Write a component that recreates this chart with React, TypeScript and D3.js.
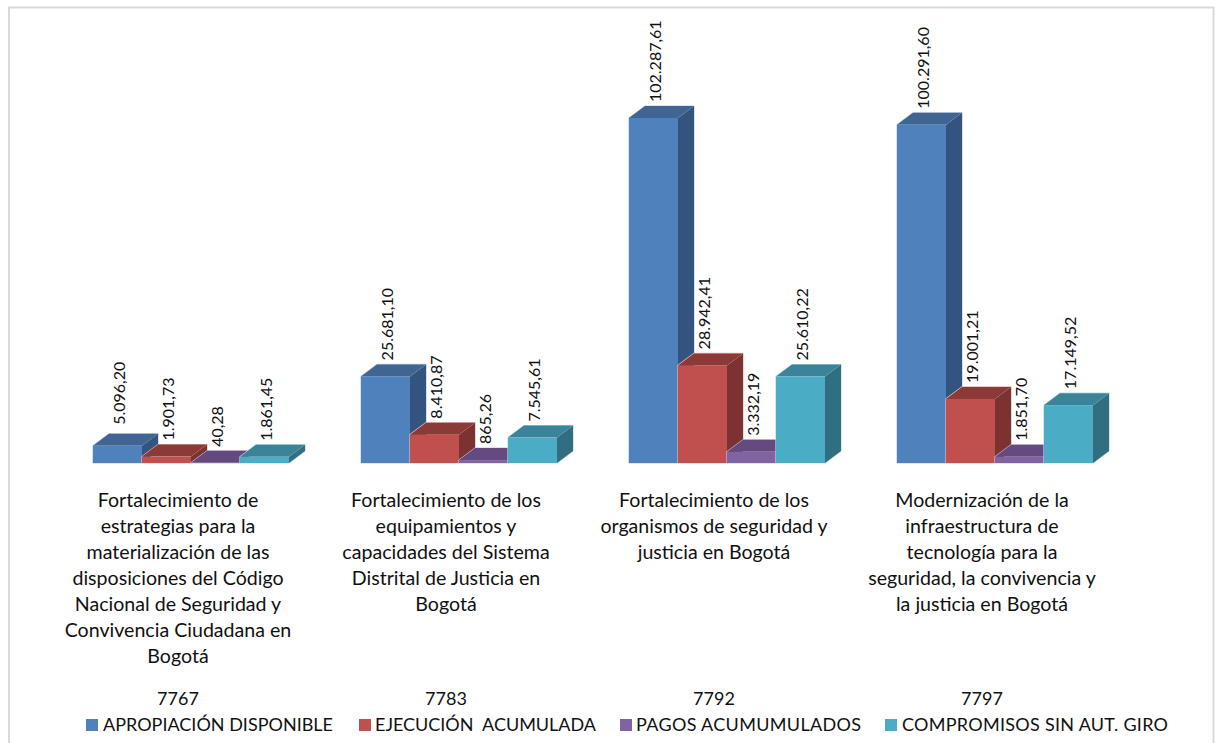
import React from "react";
import * as d3 from "d3";

// Budget execution per investment project, in millions of pesos.
const projectCodes = ["7767", "7783", "7792", "7797"];
const projectNames = [
  ["Fortalecimiento de", "estrategias para la", "materialización de las", "disposiciones del Código", "Nacional de Seguridad y", "Convivencia Ciudadana en", "Bogotá"],
  ["Fortalecimiento de los", "equipamientos y", "capacidades del Sistema", "Distrital de Justicia en", "Bogotá"],
  ["Fortalecimiento de los", "organismos de seguridad y", "justicia en Bogotá"],
  ["Modernización de la", "infraestructura de", "tecnología para la", "seguridad, la convivencia y", "la justicia en Bogotá"],
];
const seriesNames = ["APROPIACIÓN DISPONIBLE", "EJECUCIÓN  ACUMULADA", "PAGOS ACUMUMULADOS", "COMPROMISOS SIN AUT. GIRO"];
const apropiacion = [5096.2, 25681.1, 102287.61, 100291.6];
const ejecucion = [1901.73, 8410.87, 28942.41, 19001.21];
const pagos = [40.28, 865.26, 3332.19, 1851.7];
const compromisos = [1861.45, 7545.61, 25610.22, 17149.52];
const seriesValues = [apropiacion, ejecucion, pagos, compromisos];

const frontColors = ["#4f81bd", "#c0504d", "#8064a2", "#4bacc6"];
const topColors = ["#406592", "#8c3a38", "#644a7e", "#3a8398"];
const sideColors = ["#345480", "#7b3230", "#54396e", "#316f80"];

const DEPTH_X = 16;
const DEPTH_Y = 12;
const FONT = "Lato, 'Open Sans', sans-serif";

const formatValue = (v: number) => {
  const [whole, dec] = v.toFixed(2).split(".");
  return whole.replace(/\B(?=(\d{3})+$)/g, ".") + "," + dec;
};

export default function App() {
  const baseY = 463;
  const y = d3.scaleLinear().domain([0, 102287.61]).range([baseY, 118]);
  const category = d3.scaleBand<string>().domain(projectCodes).range([44, 1116]);
  const series = d3.scaleBand<string>().domain(seriesNames).range([49, 49 + 49 * 4]);
  const legendX = [86, 359, 620, 885];
  const legendTextX = [103, 375, 636, 902];
  const legendWidths = [230, 221, 225, 266];

  return (
    <svg width={1218} height={743} style={{ position: "absolute", left: 0, top: 0, background: "#fff" }}>
      {/* chart frame, open at the bottom */}
      <path d="M9 743V7.5H1213.5V743" fill="none" stroke="#d9d9d9" strokeWidth={2} />

      {projectCodes.map((code, ci) => {
        const gx = category(code)!;
        const centre = gx + category.bandwidth() / 2;
        return (
          <g key={code}>
            {seriesNames.map((name, si) => {
              const value = seriesValues[si][ci];
              const x0 = gx + series(name)!;
              const x1 = x0 + series.bandwidth();
              const top = y(value);
              const outline = d3.path();
              outline.moveTo(x0, baseY);
              outline.lineTo(x0, top);
              outline.lineTo(x0 + DEPTH_X, top - DEPTH_Y);
              outline.lineTo(x1 + DEPTH_X, top - DEPTH_Y);
              outline.lineTo(x1 + DEPTH_X, baseY - DEPTH_Y);
              outline.lineTo(x1, baseY);
              outline.closePath();
              const lid = d3.path();
              lid.moveTo(x0, top);
              lid.lineTo(x0 + DEPTH_X, top - DEPTH_Y);
              lid.lineTo(x1 + DEPTH_X, top - DEPTH_Y);
              lid.lineTo(x1, top);
              lid.closePath();
              const side = d3.path();
              side.moveTo(x1, top);
              side.lineTo(x1 + DEPTH_X, top - DEPTH_Y);
              side.lineTo(x1 + DEPTH_X, baseY - DEPTH_Y);
              side.lineTo(x1, baseY);
              side.closePath();
              return (
                <g key={name}>
                  <path d={outline.toString()} fill="none" stroke={d3.interpolateRgb(frontColors[si], "#ffffff")(0.6)} strokeWidth={1.2} />
                  <path d={side.toString()} fill={sideColors[si]} />
                  <path d={lid.toString()} fill={topColors[si]} />
                  <rect x={x0} y={top} width={x1 - x0} height={baseY - top} fill={frontColors[si]} />
                </g>
              );
            })}
            {seriesNames.map((name, si) => {
              const value = seriesValues[si][ci];
              const tx = gx + series(name)! + 25;
              // The first label of the first project sits a little higher than the rest.
              const gap = ci === 0 && si === 0 ? 9 : 4;
              const ty = y(value) - DEPTH_Y - gap;
              return (
                <text
                  key={name}
                  transform={`translate(${tx},${ty}) rotate(-90)`}
                  dominantBaseline="central"
                  fontFamily={FONT}
                  fontSize={16}
                  fill="#111"
                >
                  {formatValue(value)}
                </text>
              );
            })}
            {projectNames[ci].map((line, li) => (
              <text key={li} x={centre} y={507 + li * 26} textAnchor="middle" fontFamily={FONT} fontSize={19.6} fill="#111">
                {line}
              </text>
            ))}
            <text x={centre} y={705} textAnchor="middle" fontFamily={FONT} fontSize={18} fill="#111">
              {code}
            </text>
          </g>
        );
      })}

      {seriesNames.map((name, si) => (
        <g key={name}>
          <rect x={legendX[si]} y={719} width={12} height={12} fill={frontColors[si]} />
          <text x={legendTextX[si]} y={731} textLength={legendWidths[si]} fontFamily={FONT} fontSize={18} fill="#111" style={{ whiteSpace: "pre" }}>
            {name}
          </text>
        </g>
      ))}
    </svg>
  );
}
